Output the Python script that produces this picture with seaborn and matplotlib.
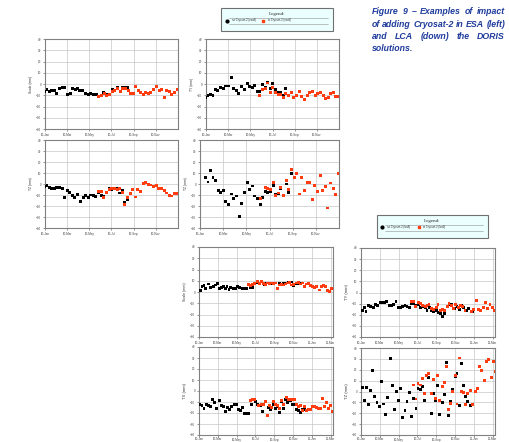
import numpy as np
import pandas as pd
import seaborn as sns
import matplotlib
matplotlib.use('Agg')
import matplotlib.pyplot as plt
from matplotlib.lines import Line2D
from matplotlib.patches import Rectangle

# (months since 1 Jan 2010, value in mm)
esa_scale_no = [(0.0, -6.3), (0.18, -4.5), (0.39, -6.3), (0.60, -6.0), (0.84, -6.0), (1.08, -8.7),
                (1.33, -3.9), (1.54, -3.0), (1.75, -3.3), (2.05, -9.0), (2.26, -8.4), (2.50, -3.6),
                (2.71, -5.1), (2.92, -3.9), (3.13, -6.0), (3.40, -5.4), (3.67, -8.1), (3.89, -9.6),
                (4.13, -8.1), (4.40, -9.3), (4.64, -9.6), (4.85, -10.7), (5.30, -7.2), (5.57, -9.6),
                (6.05, -4.8), (6.54, -3.3), (6.96, -2.7), (7.20, -2.7), (7.44, -3.3), (7.68, -8.1)]
esa_scale_w = [(4.85, -11.3), (5.06, -10.1), (5.36, -8.1), (5.57, -10.4), (5.81, -9.0), (6.05, -6.3),
               (6.30, -5.7), (6.54, -3.9), (6.78, -6.3), (7.02, -4.2), (7.26, -4.2), (7.53, -5.7),
               (7.74, -8.4), (7.98, -8.4), (8.19, -2.4), (8.40, -5.7), (8.64, -7.5), (8.89, -9.0),
               (9.10, -7.8), (9.34, -8.4), (9.55, -7.2), (9.79, -5.1), (10.09, -2.4), (10.30, -5.7),
               (10.54, -4.5), (10.78, -11.6), (10.99, -5.7), (11.23, -6.9), (11.45, -9.0),
               (11.69, -7.2), (11.93, -5.1)]

esa_ty_no = [(0.0, -12.2), (0.18, -9.9), (0.42, -9.0), (0.63, -10.1), (0.84, -5.1), (1.08, -5.4),
             (1.32, -2.7), (1.56, -3.6), (1.80, -1.8), (2.04, -1.8), (2.28, 6.0), (2.52, -3.6),
             (2.76, -6.0), (2.97, -8.4), (3.24, -2.1), (3.48, -4.8), (3.72, 0.6), (3.96, -2.1),
             (4.17, -3.3), (4.41, -1.5), (4.62, -6.3), (4.86, -6.9), (5.07, -0.6), (5.35, -2.7),
             (5.56, 1.5), (5.80, -3.9), (6.04, 0.3), (6.28, -4.5), (6.49, -7.8), (6.73, -7.8),
             (6.97, -10.1), (7.21, -4.2)]
esa_ty_w = [(4.86, -10.1), (5.07, -5.1), (5.35, -3.9), (5.56, 0.9), (5.80, -7.5), (6.04, -3.0),
            (6.28, -7.2), (6.52, -9.0), (6.73, -9.0), (6.97, -11.6), (7.21, -8.1), (7.45, -10.1),
            (7.69, -7.8), (7.93, -11.6), (8.17, -10.1), (8.41, -6.6), (8.65, -11.0), (8.89, -13.7),
            (9.13, -9.9), (9.37, -7.2), (9.61, -6.3), (9.85, -10.1), (10.09, -8.1), (10.33, -7.8),
            (10.57, -10.4), (10.81, -12.5), (11.02, -12.2), (11.26, -8.1), (11.47, -7.2),
            (11.71, -10.7), (11.92, -10.7)]

esa_tz_no = [(0.0, -2.1), (0.18, -1.2), (0.39, -3.6), (0.60, -4.5), (0.84, -4.2), (1.08, -3.0),
             (1.32, -3.6), (1.59, -4.5), (1.80, -12.4), (2.04, -6.0), (2.25, -7.9), (2.49, -10.3),
             (2.70, -12.7), (2.97, -9.7), (3.21, -15.7), (3.45, -12.4), (3.69, -10.3), (3.90, -12.1),
             (4.14, -10.0), (4.35, -10.3), (4.59, -11.5), (4.83, -7.6), (5.07, -10.3), (5.31, -11.2),
             (5.55, -8.2), (5.79, -3.9), (6.03, -5.4), (6.27, -4.2), (6.51, -4.2), (6.72, -8.2),
             (6.96, -6.3), (7.20, -17.2), (7.44, -13.9)]
esa_tz_w = [(4.83, -6.6), (5.07, -6.6), (5.31, -12.1), (5.55, -7.6), (5.79, -5.1), (6.03, -4.2),
            (6.27, -4.5), (6.51, -5.1), (6.75, -4.5), (6.99, -7.3), (7.20, -18.7), (7.44, -12.1),
            (7.68, -8.8), (7.92, -4.8), (8.13, -11.8), (8.37, -5.4), (8.61, -6.9), (8.85, 0.3),
            (9.09, 1.2), (9.30, -0.3), (9.54, -0.9), (9.78, -2.4), (10.02, -1.5), (10.26, -3.9),
            (10.50, -3.9), (10.74, -6.3), (10.98, -8.2), (11.22, -10.6), (11.43, -10.9),
            (11.64, -8.8), (11.85, -8.8)]

esa_tz2_no = [(0.46, 6.3), (0.69, 1.8), (0.92, 12.4), (1.12, 6.3), (1.35, 3.6), (1.58, -5.7),
              (1.81, -7.9), (2.04, -6.0), (2.24, -16.3), (2.47, -19.0), (2.70, -9.1), (2.93, -13.3),
              (3.16, -10.9), (3.39, -29.3), (3.62, -18.1), (3.85, -7.6), (4.08, 1.5), (4.28, -5.1),
              (4.51, -1.8), (4.74, -10.9), (4.97, -13.6), (5.20, -19.0), (5.40, -12.4), (5.63, -6.6),
              (5.86, -7.9), (6.09, -6.6), (6.32, -1.5), (6.55, -9.7), (6.78, -9.1), (6.98, -3.9),
              (7.21, -10.9), (7.44, 0.0), (7.67, -7.6), (7.90, 9.4)]
esa_tz2_w = [(5.20, -13.6), (5.63, -3.6), (5.86, -4.5), (6.09, -4.8), (6.32, 1.5), (6.55, -10.3),
             (6.78, -8.2), (6.98, -3.0), (7.21, -10.3), (7.44, 3.3), (7.67, -5.1), (7.90, 13.0),
             (8.13, 5.7), (8.33, 9.4), (8.56, -9.1), (8.79, 6.0), (9.02, -6.3), (9.25, 1.2),
             (9.48, 1.2), (9.71, -14.2), (9.91, -1.2), (10.14, -6.9), (10.37, 7.3), (10.60, -6.3),
             (10.83, -2.4), (11.03, -21.8), (11.26, 0.9), (11.49, -4.5), (11.72, -9.4), (11.95, 9.4)]

lca_scale_no = [(0.18, 1.5), (0.32, 5.0), (0.53, 5.6), (0.74, 3.3), (1.02, 7.1), (1.23, 4.2),
                (1.51, 5.0), (1.72, 6.2), (1.93, 7.4), (2.14, 3.3), (2.35, 4.2), (2.56, 5.0),
                (2.77, 3.3), (2.98, 4.5), (3.19, 2.1), (3.40, 4.2), (3.68, 3.3), (3.89, 2.7),
                (4.11, 4.5), (4.32, 3.9), (4.60, 3.0), (4.81, 3.3), (5.02, 2.7), (5.51, 4.2),
                (5.72, 3.6), (6.21, 8.6), (6.98, 6.8), (7.19, 8.0), (7.47, 8.0), (7.75, 7.7),
                (7.96, 7.1), (8.53, 8.0), (8.95, 7.7), (9.23, 8.0), (9.51, 8.3), (9.79, 8.9),
                (10.07, 5.9), (10.35, 7.1), (10.70, 7.7)]
lca_scale_w = [(5.23, 6.8), (5.44, 5.9), (5.72, 6.5), (5.93, 7.7), (6.21, 9.5), (6.42, 7.7),
               (6.63, 9.2), (6.84, 7.4), (7.05, 6.8), (7.26, 8.0), (7.47, 7.4), (7.68, 8.0),
               (7.89, 7.7), (8.11, 8.0), (8.32, 2.7), (8.53, 6.2), (8.74, 6.8), (8.95, 6.2),
               (9.23, 7.1), (9.44, 8.0), (9.65, 8.6), (9.86, 6.2), (10.07, 6.8), (10.35, 8.0),
               (10.56, 8.6), (10.84, 7.1), (11.05, 8.0), (11.26, 4.7), (11.47, 7.1), (11.68, 7.4),
               (11.89, 5.9), (12.11, 5.0), (12.32, 4.2), (12.53, 5.3), (12.81, 1.8), (13.02, 5.0),
               (13.23, 5.6), (13.44, 4.5), (13.65, 1.5), (13.86, 0.6), (14.07, 3.3)]

lca_tx_no = [(0.10, -12.0), (0.32, -13.5), (0.53, -16.2), (0.78, -12.6), (0.99, -13.5), (1.24, -14.4),
             (1.45, -7.5), (1.66, -10.5), (1.87, -15.6), (2.16, -9.0), (2.37, -13.5), (2.58, -14.1),
             (2.83, -18.3), (3.04, -14.7), (3.25, -16.8), (3.50, -14.4), (3.75, -12.0), (3.96, -12.3),
             (4.17, -17.1), (4.42, -18.0), (4.63, -15.3), (4.84, -20.7), (5.05, -20.1), (5.30, -20.7),
             (5.58, -12.0), (6.01, -9.3), (6.22, -12.6), (6.54, -12.9), (6.75, -18.3), (7.39, -15.0),
             (7.63, -17.1), (7.88, -12.6), (8.09, -15.9), (8.30, -14.4), (8.55, -19.8), (8.76, -9.3),
             (8.98, -16.2), (9.22, -7.5), (9.43, -10.5), (9.72, -8.4), (9.93, -12.0), (10.14, -12.0),
             (10.35, -16.5), (10.57, -17.4), (10.78, -19.2), (11.00, -17.1), (11.20, -16.8)]
lca_tx_w = [(5.48, -8.4), (5.69, -8.1), (5.90, -7.5), (6.36, -12.9), (6.61, -12.0), (6.82, -12.3),
            (7.03, -9.3), (7.24, -22.2), (7.46, -13.5), (7.67, -15.0), (7.92, -9.3), (8.16, -12.3),
            (8.37, -12.9), (8.59, -15.9), (8.80, -9.0), (9.01, -12.6), (9.26, -6.0), (9.47, -7.5),
            (9.72, -7.5), (9.93, -7.5), (10.14, -7.5), (10.35, -12.6), (10.60, -13.8), (10.81, -13.5),
            (11.02, -17.4), (11.24, -13.8), (11.45, -17.4), (11.66, -16.8), (11.87, -16.5),
            (12.08, -13.8), (12.30, -14.4), (12.51, -15.0), (12.72, -15.6), (12.93, -15.6),
            (13.14, -6.9), (13.36, -14.1), (13.60, -10.8), (13.82, -15.9), (14.03, -13.2),
            (14.24, -18.9)]

lca_ty_no = [(0.14, -15.9), (0.35, -13.8), (0.53, -16.8), (0.82, -12.0), (1.06, -12.9), (1.31, -13.5),
             (1.52, -11.1), (1.77, -12.0), (2.02, -9.3), (2.27, -9.0), (2.52, -9.0), (2.73, -7.8),
             (3.01, -11.7), (3.26, -11.7), (3.48, -10.8), (3.72, -8.1), (3.94, -13.5), (4.18, -13.5),
             (4.43, -12.9), (4.68, -11.4), (4.89, -12.3), (5.14, -13.5), (5.39, -9.6), (5.60, -9.6),
             (5.85, -11.7), (6.10, -10.8), (6.31, -13.8), (6.56, -12.6), (6.81, -13.8), (7.02, -15.9),
             (7.27, -13.8), (7.52, -15.9), (7.73, -17.4), (7.98, -16.5), (8.23, -18.3), (8.44, -18.6),
             (8.69, -21.3), (8.90, -18.9), (9.43, -10.5), (9.68, -11.1), (9.93, -14.4), (10.21, -12.6),
             (10.43, -15.3), (10.71, -12.0), (10.92, -13.5), (11.17, -15.9), (11.42, -14.4),
             (11.88, -16.8)]
lca_ty_w = [(5.32, -7.8), (5.57, -7.8), (5.82, -12.9), (6.10, -9.0), (6.31, -9.6), (6.56, -11.4),
            (6.81, -12.9), (7.02, -11.4), (7.23, -10.5), (7.48, -14.4), (7.73, -15.0), (7.98, -13.5),
            (8.19, -10.5), (8.44, -15.9), (8.65, -15.3), (8.90, -15.9), (9.15, -12.3), (9.36, -9.9),
            (9.61, -11.4), (9.86, -14.7), (10.07, -10.8), (10.35, -13.8), (10.57, -11.4),
            (10.82, -12.9), (11.06, -16.2), (11.77, -17.4), (11.99, -15.6), (12.27, -6.9),
            (12.48, -15.0), (12.73, -15.9), (12.98, -13.5), (13.23, -8.7), (13.48, -14.7),
            (13.72, -11.1), (13.97, -13.8), (14.22, -15.9)]

lca_tz_no = [(0.14, 3.9), (0.35, -8.2), (0.57, 3.9), (0.78, -11.8), (0.99, 1.2), (1.24, 19.6),
             (1.45, -4.2), (1.70, -9.7), (1.95, -13.6), (2.16, 9.1), (2.38, -11.5), (2.59, -20.8),
             (2.84, -5.4), (3.09, 30.2), (3.30, 5.4), (3.55, -16.3), (3.76, 0.3), (4.01, -7.9),
             (4.22, 2.4), (4.43, -24.2), (4.68, -17.8), (4.89, -8.8), (5.14, -0.9), (5.35, -22.7),
             (5.60, -6.6), (5.85, -15.7), (6.06, 3.0), (6.31, 1.5), (6.52, 4.5), (6.74, -7.9),
             (6.99, 14.8), (7.20, 12.7), (7.45, -20.2), (7.66, -1.5), (7.91, -8.5), (8.16, 5.4),
             (8.37, -21.1), (8.62, -9.7), (8.83, -2.7), (9.08, 26.3), (9.29, -22.4), (9.54, -9.4),
             (9.75, 1.5), (10.00, 14.2), (10.21, 16.3), (10.46, -12.7), (10.67, 25.4), (10.89, 5.1),
             (11.10, -4.8), (11.35, -9.4), (11.60, -12.7)]
lca_tz_w = [(5.60, 6.0), (5.85, -6.9), (6.06, 7.6), (6.31, 6.0), (6.52, 11.8), (6.74, -1.5),
            (6.99, 14.5), (7.20, 16.6), (7.45, -2.1), (7.66, 10.6), (7.91, -6.6), (8.16, 14.8),
            (8.37, -8.5), (8.62, 4.8), (8.83, 8.5), (9.08, 22.7), (9.29, -16.6), (9.54, -10.9),
            (9.75, 0.0), (10.00, 15.1), (10.21, -11.5), (10.46, 30.8), (10.67, 0.0), (10.89, -1.2),
            (11.10, -12.1), (11.35, -1.5), (11.60, 1.2), (11.84, -11.8), (12.13, 0.3), (12.38, 2.4),
            (12.59, 22.7), (12.80, 19.0), (13.09, 10.0), (13.33, 27.2), (13.58, 29.3), (13.83, 13.3),
            (14.08, 27.8), (14.26, 18.4)]

esa_ticklabels = ['10-Jan', '10-Mar', '10-May', '10-Jul', '10-Sep', '10-Nov']
lca_ticklabels = ['10-Jan', '10-Mar', '10-May', '10-Jul', '10-Sep', '10-Nov', '11-Jan', '11-Mar']
esa_legend = ['no Cryosat-2 (esa8)', 'w Cryosat-2 (esa9)']
lca_legend = ['no Cryosat-2 (lca8)', 'w Cryosat-2 (lca9)']
caption = ['Figure 9 \u2013 Examples of impact', 'of adding Cryosat-2 in ESA (left)',
           'and LCA (down) the DORIS', 'solutions.']

RED = '#ff3c0f'
GRID = '#c6c6c6'
FRAME = '#808080'
W, H = 509, 442

sns.set_theme(style='white')
plt.rcParams['font.family'] = ['Liberation Sans', 'DejaVu Sans']

fig = plt.figure(figsize=(W / 100, H / 100), dpi=100)
fig.patch.set_facecolor('white')


def px_box(l, t, r, b):
    return [l / W, 1 - b / H, (r - l) / W, (b - t) / H]


def panel(box, no, w, ylabel, ticklabels, xmax, labsize, xpad=1.5):
    ax = fig.add_axes(px_box(*box))
    df = pd.concat([pd.DataFrame(no, columns=['month', 'mm']).assign(run='no'),
                    pd.DataFrame(w, columns=['month', 'mm']).assign(run='w')])
    sns.scatterplot(data=df, x='month', y='mm', hue='run', palette={'no': 'black', 'w': RED},
                    marker='s', s=4.5, linewidth=0, legend=False, ax=ax, zorder=3)
    ax.set_xlim(0, xmax)
    ax.set_ylim(-40, 40)
    ax.set_yticks(np.arange(-40, 41, 10))
    ax.set_xticks(np.arange(0, 2 * len(ticklabels), 2))
    ax.set_xticklabels(ticklabels)
    ax.grid(True, color=GRID, lw=0.5)
    ax.set_axisbelow(True)
    ax.set_xlabel('')
    ax.set_ylabel(ylabel, fontsize=labsize, color='#333333', labelpad=2)
    ax.tick_params(labelsize=2.2, length=1.2, width=0.4, pad=1.5, colors='#444444',
                   left=True, bottom=True)
    ax.tick_params(axis='x', pad=xpad)
    for s in ax.spines.values():
        s.set_color(FRAME)
        s.set_linewidth(0.8)
    return ax


panel((45, 39, 178, 129), esa_scale_no, esa_scale_w, 'Scale (mm)', esa_ticklabels, 12, 2.4)
panel((206, 39, 339, 129), esa_ty_no, esa_ty_w, 'TY (mm)', esa_ticklabels, 12, 2.4)
panel((45, 140, 178, 228), esa_tz_no, esa_tz_w, 'TZ (mm)', esa_ticklabels, 12, 2.4)
panel((200, 140, 339, 228), esa_tz2_no, esa_tz2_w, 'TZ (mm)', esa_ticklabels, 12, 2.4)
panel((199, 247, 333, 337), lca_scale_no, lca_scale_w, 'Scale (mm)', lca_ticklabels, 14.25, 2.6)
panel((199, 347, 333, 435), lca_tx_no, lca_tx_w, 'TX (mm)', lca_ticklabels, 14.25, 3, 0.6)
panel((361, 248, 495, 337), lca_ty_no, lca_ty_w, 'TY (mm)', lca_ticklabels, 14.25, 3)
panel((361, 348, 495, 435), lca_tz_no, lca_tz_w, 'TZ (mm)', lca_ticklabels, 14.25, 3, 0.6)


def fx(x):
    return x / W


def fy(y):
    return 1 - y / H


def legend_box(l, t, r, b, labels, mark1, text1, mark2, text2, title_y, rule1, rule2, row):
    fig.add_artist(Rectangle((fx(l), fy(b)), fx(r) - fx(l), fy(t) - fy(b), transform=fig.transFigure,
                             facecolor='#ebffff', edgecolor='#707070', lw=0.8))
    fig.text(fx((l + r) / 2), fy(title_y), 'Legend:', ha='center', va='center', fontsize=3.6,
             family=['Liberation Serif', 'DejaVu Serif'], color='#222222')
    for ry in (rule1, rule2):
        fig.add_artist(Line2D([fx(l + 8), fx(r - 5)], [fy(ry), fy(ry)], transform=fig.transFigure,
                              color='#909090', lw=0.4))
    fig.add_artist(Line2D([fx(mark1)], [fy(row)], transform=fig.transFigure, marker='o',
                          color='black', ms=2, lw=0))
    fig.add_artist(Line2D([fx(mark2)], [fy(row)], transform=fig.transFigure, marker='s',
                          color=RED, ms=2, lw=0))
    fig.text(fx(text1), fy(row), labels[0], ha='left', va='center', fontsize=2, color='#333333')
    fig.text(fx(text2), fy(row), labels[1], ha='left', va='center', fontsize=2, color='#333333')


legend_box(221, 8, 333, 31, esa_legend, 227, 232, 263, 268, 14, 17.5, 23.5, 20.5)
legend_box(377, 215, 488, 238, lca_legend, 382, 387, 419, 423, 221, 224.5, 230.5, 227.5)

# justified caption text
renderer = fig.canvas.get_renderer()
x0, x1 = 372, 505
for i, line in enumerate(caption):
    y = 12 + 12.2 * i
    words = line.split(' ')
    kw = dict(fontsize=6.3, fontweight='bold', fontstyle='italic', color='#1f3c9c',
              va='center', ha='left')
    if i == len(caption) - 1:
        fig.text(fx(x0), fy(y), line, **kw)
        continue
    texts = [fig.text(0, fy(y), wd, **kw) for wd in words]
    widths = [t.get_window_extent(renderer).width for t in texts]
    gap = (x1 - x0 - sum(widths)) / (len(words) - 1)
    x = x0
    for t, wdt in zip(texts, widths):
        t.set_x(fx(x))
        x += wdt + gap

fig.savefig('out.png', dpi=100)
